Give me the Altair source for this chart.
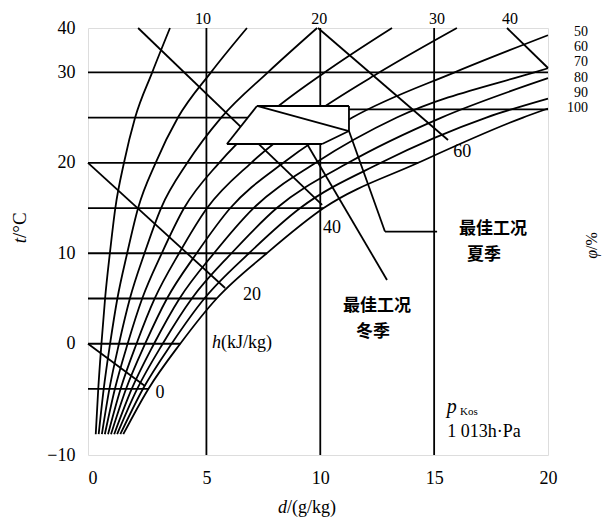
import altair as alt
import pandas as pd

# ---------------- data ----------------
# relative-humidity curves: moisture content d (g/kg) at the listed temperatures
t_levels = [-10, -5, 0, 5, 10, 15, 20, 25, 30]
phi_values = [10, 20, 30, 40, 50, 60, 70, 80, 90, 100]
d_phi10 = [0.14, 0.25, 0.39, 0.55, 0.76, 1.00, 1.38, 1.87, 2.62]
d_phi20 = [0.27, 0.49, 0.77, 1.09, 1.52, 2.00, 2.77, 3.75, 5.20]
d_phi30 = [0.41, 0.74, 1.16, 1.64, 2.28, 3.01, 4.16, 5.65, 7.70]
d_phi40 = [0.54, 0.98, 1.54, 2.18, 3.04, 4.02, 5.56, 7.56, 10.2]
d_phi50 = [0.68, 1.23, 1.93, 2.73, 3.80, 5.03, 6.97, 9.48, 12.6]
d_phi60 = [0.81, 1.47, 2.31, 3.27, 4.57, 6.05, 8.38, 11.41, 15.9]
d_phi70 = [0.95, 1.72, 2.70, 3.82, 5.33, 7.07, 9.80, 13.36, 19.4]
d_phi80 = [1.08, 1.96, 3.08, 4.36, 6.10, 8.09, 11.23, 15.32]
d_phi90 = [1.22, 2.21, 3.47, 4.91, 6.87, 9.12, 12.66, 17.29]
d_phi100 = [1.35, 2.45, 3.85, 5.45, 7.65, 10.15, 14.30, 18.90]
# where each curve leaves the frame
phi_end_d = [3.40, 6.78, 9.86, 13.15, 16.0, 20.0, 20.0, 20.0, 20.0, 20.0]
phi_end_t = [34.9, 34.9, 34.9, 34.9, 34.9, 34.1, 30.45, 29.35, 27.1, 26.0]

# isotherms (horizontal lines): t, from d0 to d1
iso_t = [30, 25, 25.9, 20, 15, 10, 5, 0, -5]
iso_d0 = [-0.2, -0.2, 11.26, -0.2, -0.2, -0.2, -0.2, -0.2, -0.2]
iso_d1 = [20.0, 8.0, 20.0, 14.30, 10.15, 7.65, 5.45, 3.85, 2.45]

# isenthalps h (kJ/kg): start and end points
h_values = [0, 20, 40, 60, 80]
h_d0 = [-0.2, -0.2, 2.0, 9.90, 18.2]
h_t0 = [0.0, 20.0, 34.9, 34.9, 34.9]
h_d1 = [2.30, 5.82, 10.08, 15.61, 20.0]
h_t1 = [-4.67, 6.16, 15.34, 22.52, 30.48]

# vertical d lines
d_lines = [5, 10, 15]

# optimum-condition zone (polygon) vertices
zone_d = [5.90, 7.22, 11.26, 11.26, 10.08]
zone_t = [22.08, 26.28, 26.28, 23.51, 22.08]
# inner diagonal and leader lines (segments)
seg_d0 = [7.22, 11.26, 12.84, 9.42]
seg_t0 = [26.28, 23.51, 12.40, 22.08]
seg_d1 = [11.26, 12.84, 15.13, 12.93]
seg_t1 = [23.51, 12.40, 12.40, 7.05]

# axis ticks
x_ticks = [0, 5, 10, 15, 20]
y_ticks = [-12.3, 0, 10, 20, 30, 34.9]
top_labels = ["10", "20", "30", "40"]
top_label_d = [4.85, 9.95, 15.13, 18.33]
phi_labels = ["50", "60", "70", "80", "90", "100"]
phi_label_t = [34.46, 32.80, 31.14, 29.37, 27.72, 26.06]

# ---------------- scales / encodings ----------------
XD = [-0.2, 20]
YD = [-12.3, 34.9]
SERIF = "Liberation Serif"
CJK = "Noto Sans CJK SC"
FS = 18

x_axis = alt.Axis(values=x_ticks, ticks=False, domain=False, grid=False, title=None,
                  labelFont=SERIF, labelFontSize=FS, labelColor="black",
                  labelPadding=14, labelFlush=False, labelAngle=0, labelOverlap=False)
y_axis = alt.Axis(values=y_ticks, ticks=False, domain=False, grid=False, title=None,
                  labelFont=SERIF, labelFontSize=FS, labelColor="black",
                  labelPadding=13, labelFlush=False, labelOverlap=False,
                  labelExpr="datum.value > 34 ? '40' : (datum.value < -12 ? '\u221210' : datum.label)")


def xe(f):
    return alt.X(f, type="quantitative", scale=alt.Scale(domain=XD, nice=False, zero=False), axis=x_axis)


def ye(f):
    return alt.Y(f, type="quantitative", scale=alt.Scale(domain=YD, nice=False, zero=False), axis=y_axis)


LW = 1.8

# humidity curves
curve_lists = [d_phi10, d_phi20, d_phi30, d_phi40, d_phi50,
               d_phi60, d_phi70, d_phi80, d_phi90, d_phi100]
rows = []
for phi, ds, de, te in zip(phi_values, curve_lists, phi_end_d, phi_end_t):
    for t, d in zip(t_levels, ds):
        rows.append({"phi": phi, "d": d, "t": t})
    rows.append({"phi": phi, "d": de, "t": te})
curves = pd.DataFrame(rows)

curve_layer = alt.Chart(curves).mark_line(color="black", strokeWidth=LW, interpolate="monotone").encode(
    x=xe("d"), y=ye("t"), detail="phi:N", order="t:Q")

# straight line segments
segs = []
for t, a, b in zip(iso_t, iso_d0, iso_d1):
    segs.append({"d0": a, "t0": t, "d1": b, "t1": t})
for a, b, c, e in zip(h_d0, h_t0, h_d1, h_t1):
    segs.append({"d0": a, "t0": b, "d1": c, "t1": e})
for d in d_lines:
    segs.append({"d0": d, "t0": YD[0], "d1": d, "t1": YD[1]})
seg_df = pd.DataFrame(segs)
seg_layer = alt.Chart(seg_df).mark_rule(color="black", strokeWidth=LW).encode(
    x=xe("d0"), y=ye("t0"), x2="d1", y2="t1")

# zone fill (white) drawn as horizontal area between left and right edges
z_t = [zone_t[0], zone_t[3], zone_t[1]]
z_left = [zone_d[0], zone_d[0] + (zone_d[1] - zone_d[0]) * (zone_t[3] - zone_t[0]) / (zone_t[1] - zone_t[0]), zone_d[1]]
z_right = [zone_d[4], zone_d[3], zone_d[2]]
zone_fill = alt.Chart(pd.DataFrame({"t": z_t, "dl": z_left, "dr": z_right})).mark_area(
    color="white", orient="horizontal", opacity=1).encode(y=ye("t"), x=xe("dl"), x2="dr")

zsegs = []
n = len(zone_d)
for i in range(n):
    j = (i + 1) % n
    zsegs.append({"d0": zone_d[i], "t0": zone_t[i], "d1": zone_d[j], "t1": zone_t[j]})
for a, b, c, e in zip(seg_d0, seg_t0, seg_d1, seg_t1):
    zsegs.append({"d0": a, "t0": b, "d1": c, "t1": e})
zone_layer = alt.Chart(pd.DataFrame(zsegs)).mark_rule(color="black", strokeWidth=LW).encode(
    x=xe("d0"), y=ye("t0"), x2="d1", y2="t1")


def tl(texts, ds, ts, **kw):
    style = dict(font=SERIF, fontSize=FS, color="black")
    style.update(kw)
    df = pd.DataFrame({"label": texts, "d": ds, "t": ts})
    return alt.Chart(df).mark_text(**style).encode(x=xe("d"), y=ye("t"), text="label:N")


def vt(text, x, y, **kw):
    style = dict(font=SERIF, fontSize=FS, color="black")
    style.update(kw)
    return alt.Chart(pd.DataFrame({"label": [text]})).mark_text(**style).encode(
        x=alt.value(x), y=alt.value(y), text="label:N")


texts = [
    tl(["0", "20", "40", "60"], [2.96, 7.00, 10.52, 16.23], [-5.45, 5.39, 12.79, 21.19]),
    tl(["h"], [5.64], [0.08], align="right", fontStyle="italic"),
    tl(["(kJ/kg)"], [5.64], [0.08], align="left"),
    tl(["p"], [15.55], [-6.99], align="left", fontStyle="italic", fontSize=20),
    tl(["Kos"], [16.14], [-7.55], align="left", fontSize=11),
    tl(["1 013h\u00b7Pa"], [17.19], [-9.76]),
    tl(top_labels, top_label_d, [35.95] * 4, fontSize=16),
    tl(phi_labels, [21.76] * 6, phi_label_t, align="right", fontSize=14),
    tl(["最佳工况", "夏季"], [17.59, 17.19], [12.68, 9.81], font=CJK, fontWeight="bold", fontSize=17),
    tl(["最佳工况", "冬季"], [12.49, 12.32], [4.17, 1.30], font=CJK, fontWeight="bold", fontSize=17),
    vt("d", 199, 480, align="right", fontStyle="italic"),
    vt("/(g/kg)", 199, 480, align="left"),
    vt("t", -68, 210, align="right", fontStyle="italic", angle=270, fontSize=19),
    vt("/\u00b0C", -68, 210, align="left", angle=270, fontSize=19),
    vt("\u03c6", 504, 222, align="right", fontStyle="italic", angle=270, fontSize=16),
    vt("/%", 504, 222, align="left", angle=270, fontSize=16),
]

chart = alt.layer(
    seg_layer, curve_layer, zone_fill, zone_layer, *texts
).properties(
    width=460, height=427,
    padding={"left": 80, "top": 20, "right": 55, "bottom": 63},
    autosize=alt.AutoSizeParams(type="none"),
).configure_view(stroke="black", strokeWidth=2).configure(background="white")

chart.save("out.html", embed_options={"renderer": "svg", "actions": False})
